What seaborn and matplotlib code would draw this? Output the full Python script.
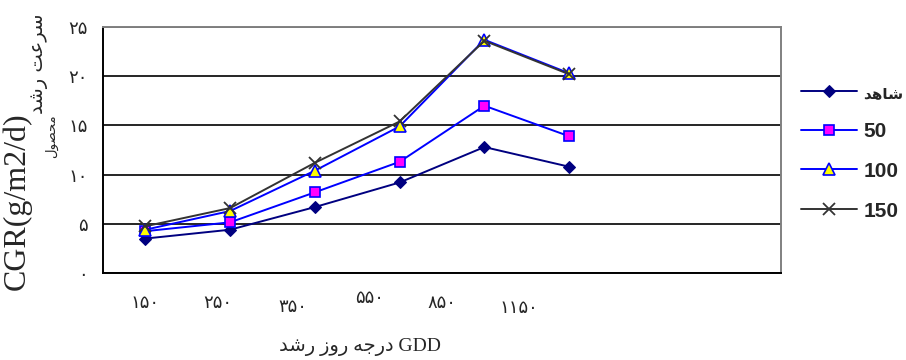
import numpy as np
import pandas as pd
import seaborn as sns
import matplotlib.pyplot as plt

# values
gdd_labels = ['۱۵۰', '۲۵۰', '۳۵۰', '۵۵۰', '۸۵۰', '۱۱۵۰']
control = [3.5, 4.4, 6.7, 9.2, 12.8, 10.8]
n50 = [4.25, 5.15, 8.2, 11.3, 17.0, 13.9]
n100 = [4.4, 6.3, 10.4, 14.9, 23.7, 20.3]
n150 = [4.75, 6.6, 11.2, 15.4, 23.6, 20.2]
y_ticks = [0, 5, 10, 15, 20, 25]
y_tick_labels = ['۰', '۵', '۱۰', '۱۵', '۲۰', '۲۵']
n_slots = 8  # the category axis has two empty slots on the right

# matplotlib has no arabic shaping, so pick presentation forms by hand
forms = {  # isolated, final, initial, medial
    'ا': (0xFE8D, 0xFE8E, None, None),
    'ت': (0xFE95, 0xFE96, 0xFE97, 0xFE98),
    'ج': (0xFE9D, 0xFE9E, 0xFE9F, 0xFEA0),
    'ح': (0xFEA1, 0xFEA2, 0xFEA3, 0xFEA4),
    'د': (0xFEA9, 0xFEAA, None, None),
    'ر': (0xFEAD, 0xFEAE, None, None),
    'ز': (0xFEAF, 0xFEB0, None, None),
    'س': (0xFEB1, 0xFEB2, 0xFEB3, 0xFEB4),
    'ش': (0xFEB5, 0xFEB6, 0xFEB7, 0xFEB8),
    'ص': (0xFEB9, 0xFEBA, 0xFEBB, 0xFEBC),
    'ع': (0xFEC9, 0xFECA, 0xFECB, 0xFECC),
    'ل': (0xFEDD, 0xFEDE, 0xFEDF, 0xFEE0),
    'م': (0xFEE1, 0xFEE2, 0xFEE3, 0xFEE4),
    'ه': (0xFEE9, 0xFEEA, 0xFEEB, 0xFEEC),
    'و': (0xFEED, 0xFEEE, None, None),
}


def fa(word):
    out = []
    n = len(word)
    for i, c in enumerate(word):
        iso, fin, ini, med = forms[c]
        jp = i > 0 and forms[word[i - 1]][2] is not None
        jn = i < n - 1 and ini is not None
        if jp and jn:
            code = med
        elif jp:
            code = fin
        elif jn:
            code = ini
        else:
            code = iso
        out.append(chr(code))
    return ''.join(out[::-1])


names = [fa('شاهد'), '50', '100', '150']
series = [control, n50, n100, n150]
styles = [
    dict(color='#000080', marker='D', markersize=6, markerfacecolor='#000080', markeredgecolor='#000080'),
    dict(color='#0000FF', marker='s', markersize=6.5, markerfacecolor='#FF00FF', markeredgecolor='#0000FF', markeredgewidth=1.2),
    dict(color='#0000FF', marker='^', markersize=8, markerfacecolor='#FFFF00', markeredgecolor='#0000FF', markeredgewidth=1.2),
    dict(color='#333333', marker='x', markersize=8.5, markeredgecolor='#333333', markeredgewidth=1.3),
]

sns.set_style('white')
plt.rcParams['font.family'] = ['Liberation Serif', 'DejaVu Sans']

fig = plt.figure(figsize=(9.06, 3.6), dpi=100)
ax = fig.add_axes([103 / 906, 1 - 273 / 360, 678 / 906, 246 / 360])

x = np.arange(len(gdd_labels))
for name, vals, st in zip(names, series, styles):
    df = pd.DataFrame({'x': x, 'y': vals})
    sns.lineplot(data=df, x='x', y='y', ax=ax, label=name, linewidth=1.4, zorder=3, **st)

ax.set_xlim(-0.5, n_slots - 0.5)
ax.set_ylim(0, 25)
ax.set_yticks(y_ticks)
ax.set_yticklabels(y_tick_labels, family=['DejaVu Sans'], fontsize=13)
ax.set_xticks(np.arange(-0.5, n_slots, 1))
ax.set_xticklabels([])
ax.tick_params(axis='both', direction='out', length=8, width=1.2, color='black', pad=3)
ax.yaxis.grid(True, color='black', linewidth=1.2)
ax.set_xlabel('')
ax.set_ylabel('')
for s in ['left', 'bottom']:
    ax.spines[s].set_color('black')
    ax.spines[s].set_linewidth(1.4)
for s in ['top', 'right']:
    ax.spines[s].set_color('#808080')
    ax.spines[s].set_linewidth(1.4)

# category labels sit a little off the points in the original
label_dx = [0, -0.15, -0.26, -0.35, -0.5, -0.59]
label_py = [303, 303, 307, 298, 303, 308]
for i, lab in enumerate(gdd_labels):
    ax.text(i + label_dx[i], -(label_py[i] - 273) / 246, lab, transform=ax.get_xaxis_transform(),
            ha='center', va='center', fontsize=13, family=['DejaVu Sans'])

xlab = ' '.join(fa(w) for w in ['رشد', 'روز', 'درجه']) + ' GDD'
fig.text(360 / 906, 1 - 347 / 360, xlab, ha='center', va='center', fontsize=14)

fig.text(17 / 906, 1 - 201 / 360, 'CGR(g/m2/d)', rotation=90, ha='center', va='center', fontsize=23)
fig.text(39 / 906, 1 - 64 / 360, fa('رشد') + ' ' + fa('سرعت'), rotation=90, ha='center', va='center',
         fontsize=14, family=['DejaVu Sans'])
fig.text(52 / 906, 1 - 136 / 360, fa('محصول'), rotation=90, ha='center', va='center',
         fontsize=9.5, family=['DejaVu Sans'])

leg = ax.legend(loc='center left', bbox_to_anchor=(801 / 906, 1 - 152 / 360), bbox_transform=fig.transFigure,
                frameon=False, borderpad=0, borderaxespad=0, handlelength=2.7, handletextpad=0.3,
                labelspacing=1.0, prop=dict(family=['Liberation Sans', 'DejaVu Sans'], weight='bold', size=15))
leg.get_texts()[0].set_fontsize(11)

fig.savefig('out.png', dpi=100)
